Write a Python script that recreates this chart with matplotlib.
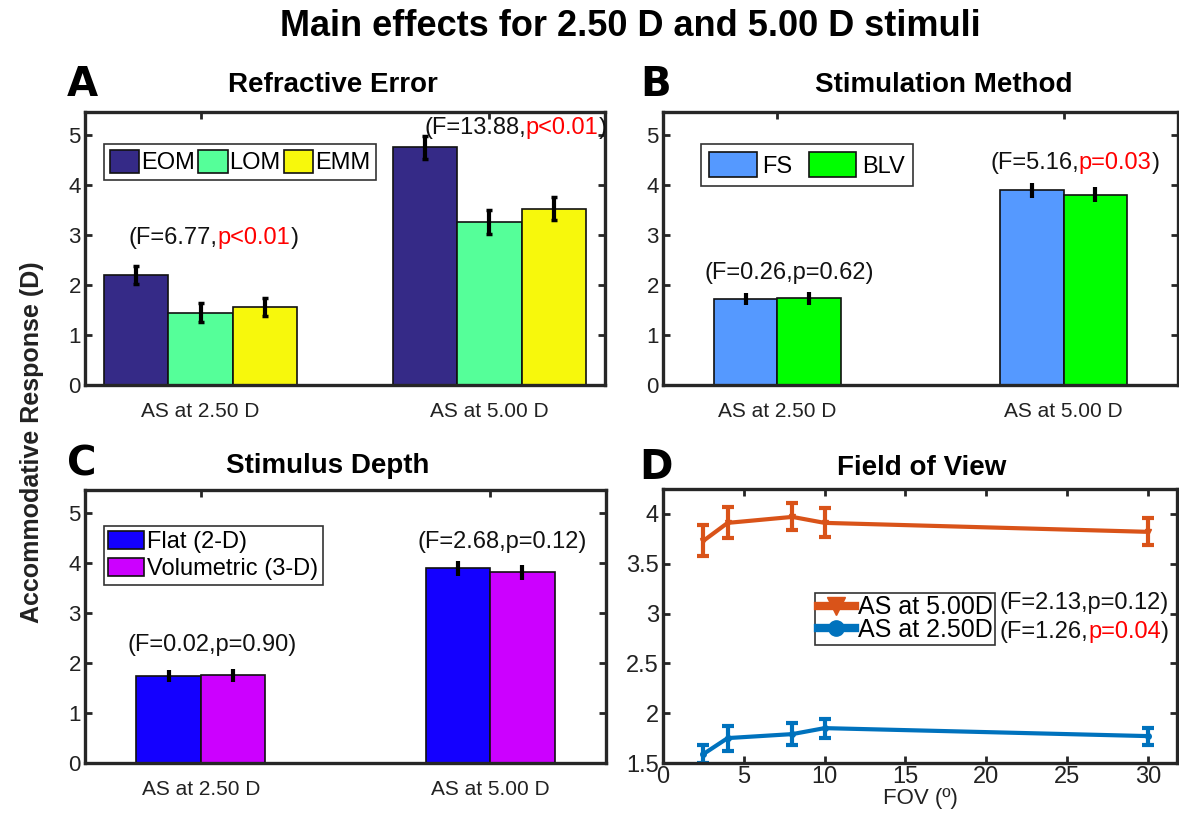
import numpy as np
import matplotlib.pyplot as plt
from matplotlib.offsetbox import TextArea, HPacker, AnnotationBbox
from matplotlib.lines import Line2D

plt.rcParams['font.family'] = ['Liberation Sans', 'DejaVu Sans']

W, H = 1179, 814

groups = ['AS at 2.50 D', 'AS at 5.00 D']

# A: refractive error
re_names = ['EOM', 'LOM', 'EMM']
re_means = [[2.20, 4.75], [1.44, 3.25], [1.55, 3.52]]
re_err = [[0.18, 0.23], [0.19, 0.24], [0.18, 0.23]]
re_colors = ['#352a87', '#55ff99', '#f7f80c']
re_stats = [('(F=6.77,', 'p<0.01', ')'), ('(F=13.88,', 'p<0.01', ')')]

# B: stimulation method
sm_names = ['FS', 'BLV']
sm_means = [[1.72, 3.89], [1.73, 3.80]]
sm_err = [[0.12, 0.15], [0.13, 0.15]]
sm_colors = ['#5599ff', '#00ff00']
sm_stats = [('(F=0.26,p=0.62)', '', ''), ('(F=5.16,', 'p=0.03', ')')]

# C: stimulus depth
sd_names = ['Flat (2-D)', 'Volumetric (3-D)']
sd_means = [[1.73, 3.89], [1.75, 3.81]]
sd_err = [[0.12, 0.15], [0.13, 0.15]]
sd_colors = ['#1400ff', '#cc00ff']
sd_stats = [('(F=0.02,p=0.90)', '', ''), ('(F=2.68,p=0.12)', '', '')]

# D: field of view
fov = [2.5, 4, 8, 10, 30]
fov_5 = [3.73, 3.91, 3.97, 3.91, 3.82]
fov_5_err = [0.155, 0.155, 0.135, 0.145, 0.135]
fov_25 = [1.59, 1.75, 1.79, 1.85, 1.77]
fov_25_err = [0.095, 0.125, 0.11, 0.095, 0.085]
fov_labels = ['AS at 5.00D', 'AS at 2.50D']
fov_colors = ['#d95319', '#0072bd']
fov_stats = [('(F=2.13,p=0.12)', '', ''), ('(F=1.26,', 'p=0.04', ')')]

fig = plt.figure(figsize=(W / 100, H / 100), dpi=100)


def px_axes(l, t, r, b):
    return fig.add_axes([l / W, 1 - b / H, (r - l) / W, (b - t) / H])


def style(ax, size):
    for s in ax.spines.values():
        s.set_linewidth(2.4)
        s.set_color('#262626')
    ax.tick_params(direction='in', length=5, width=2, top=True, right=True,
                   labelsize=size, colors='#262626', labelcolor='#222222')


def stat_text(ax, xy, parts, size, coords='data', align=(0.5, 0.5)):
    areas = []
    for p, c in zip(parts, ['#111111', 'red', '#111111']):
        if p:
            areas.append(TextArea(p, textprops=dict(color=c, size=size)))
    box = HPacker(children=areas, pad=0, sep=0)
    ab = AnnotationBbox(box, xy, xycoords=coords, frameon=False,
                        box_alignment=align, pad=0, annotation_clip=False)
    ax.add_artist(ab)


def bar_panel(ax, names, means, errs, colors, capsize):
    n = len(names)
    width = 0.223
    x = np.arange(1, 3)
    for i in range(n):
        off = (i - (n - 1) / 2) * width
        ax.bar(x + off, means[i], width, color=colors[i], edgecolor='#111111',
               lw=1.2, label=names[i], yerr=errs[i],
               error_kw=dict(ecolor='black', elinewidth=3, capsize=capsize, capthick=2.5))
    ax.set_xlim(0.6, 2.4)
    ax.set_ylim(0, 5.45)
    ax.set_xticks(x, groups)
    ax.set_yticks(range(6))
    ax.set_axisbelow(True)
    style(ax, 16)
    ax.tick_params(axis='x', pad=12, labelsize=15)
    ax.tick_params(axis='y', pad=3)


def legend_frame(leg):
    fr = leg.get_frame()
    fr.set_linewidth(1.2)
    fr.set_edgecolor('#333333')


# A
axA = px_axes(85, 112, 605, 385)
bar_panel(axA, re_names, re_means, re_err, re_colors, 2.5)
stat_text(axA, (1.045, 2.94), re_stats[0], 17)
stat_text(axA, (2.09, 5.14), re_stats[1], 17)
leg = axA.legend(ncol=3, loc='upper left', bbox_to_anchor=(0.037, 0.883), borderaxespad=0,
                 fontsize=17, handlelength=1.23, handleheight=1.1, handletextpad=0.08,
                 columnspacing=0.15, fancybox=False, framealpha=1, borderpad=0.25)
legend_frame(leg)

# B
axB = px_axes(663, 112, 1178, 385)
bar_panel(axB, sm_names, sm_means, sm_err, sm_colors, 0)
stat_text(axB, (1.04, 2.24), sm_stats[0], 17)
stat_text(axB, (2.04, 4.43), sm_stats[1], 17)
leg = axB.legend(ncol=2, loc='upper left', bbox_to_anchor=(0.074, 0.883), borderaxespad=0,
                 fontsize=17, handlelength=2.0, handleheight=1.25, handletextpad=0.25,
                 columnspacing=0.7, fancybox=False, framealpha=1, borderpad=0.35)
legend_frame(leg)

# C
axC = px_axes(85, 490, 606, 763)
bar_panel(axC, sd_names, sd_means, sd_err, sd_colors, 0)
stat_text(axC, (1.04, 2.35), sd_stats[0], 17)
stat_text(axC, (2.04, 4.42), sd_stats[1], 17)
leg = axC.legend(ncol=1, loc='upper left', bbox_to_anchor=(0.036, 0.867), borderaxespad=0,
                 fontsize=17, handlelength=1.5, handleheight=0.8, handletextpad=0.15,
                 labelspacing=0.2, fancybox=False, framealpha=1, borderpad=0.2)
legend_frame(leg)

# D
axD = px_axes(663, 489, 1177, 763)
axD.errorbar(fov, fov_5, yerr=fov_5_err, color=fov_colors[0], lw=3, elinewidth=3,
             capsize=4, capthick=3, marker='v', ms=4)
axD.errorbar(fov, fov_25, yerr=fov_25_err, color=fov_colors[1], lw=3, elinewidth=3,
             capsize=4, capthick=3, marker='o', ms=4)
axD.set_xlim(0, 31.8)
axD.set_ylim(1.5, 4.25)
axD.set_xticks(range(0, 31, 5))
axD.set_yticks([1.5, 2, 2.5, 3, 3.5, 4], ['1.5', '2', '2.5', '3', '3.5', '4'])
style(axD, 17)
axD.tick_params(axis='x', pad=2)
axD.tick_params(axis='y', pad=3)
axD.set_xlabel('FOV (º)', fontsize=16, color='#222222', labelpad=0)
handles = [Line2D([], [], color=fov_colors[0], lw=6, marker='v', ms=13),
           Line2D([], [], color=fov_colors[1], lw=6, marker='o', ms=11)]
leg = axD.legend(handles, fov_labels, loc='upper left', bbox_to_anchor=(0.296, 0.621),
                 borderaxespad=0, fontsize=18, handlelength=1.5, handletextpad=0.1,
                 labelspacing=-0.05, fancybox=False, framealpha=1, borderpad=0.1)
legend_frame(leg)
for i, parts in enumerate(fov_stats):
    stat_text(axD, (0.655, [0.585, 0.479][i]), parts, 17, coords='axes fraction', align=(0, 0.5))

# titles and labels
fig.text(630 / W, 1 - 26 / H, 'Main effects for 2.50 D and 5.00 D stimuli',
         ha='center', va='center', fontsize=26, weight='bold')
for txt, x, y in [('Refractive Error', 333, 85), ('Stimulation Method', 944, 85),
                  ('Stimulus Depth', 328, 466), ('Field of View', 922, 468)]:
    fig.text(x / W, 1 - y / H, txt, ha='center', va='center', fontsize=20, weight='bold')
for txt, x, y in [('A', 82, 85), ('B', 656, 85), ('C', 82, 465), ('D', 656, 468)]:
    fig.text(x / W, 1 - y / H, txt, ha='center', va='center', fontsize=29,
             weight='heavy', family='DejaVu Sans')
fig.text(32 / W, 1 - 442 / H, 'Accommodative Response (D)', rotation=90, ha='center',
         va='center', fontsize=18, weight='bold', color='#222222')

fig.savefig('out.png', dpi=100, facecolor='white')
